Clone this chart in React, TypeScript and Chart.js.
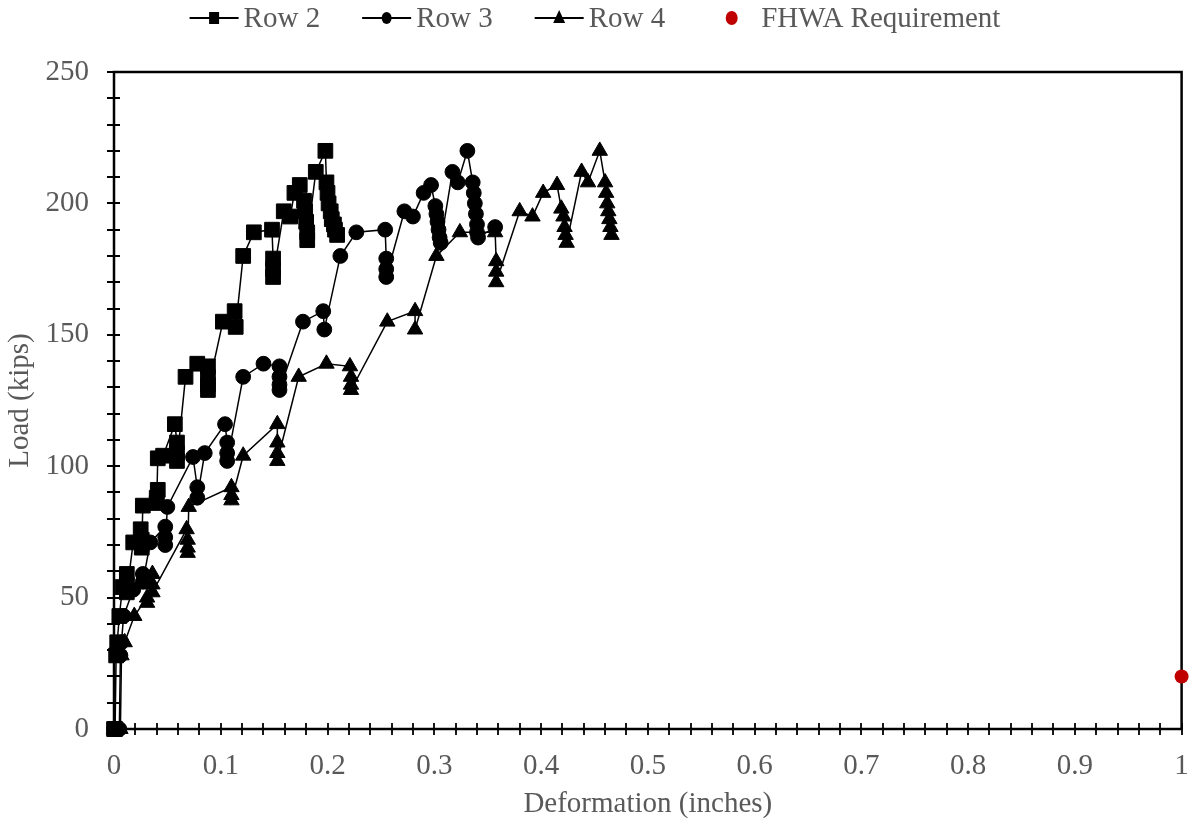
import React, { useEffect, useRef } from 'react';
import { Chart, registerables } from 'chart.js';

Chart.register(...registerables);

// ---------- data ----------
const row2X = [0, 0.001, 0.002, 0.003, 0.005, 0.008, 0.012, 0.012, 0.012, 0.018, 0.025, 0.026, 0.026, 0.027, 0.041, 0.040, 0.040, 0.041, 0.046, 0.057, 0.059, 0.059, 0.059, 0.067, 0.078, 0.088, 0.088, 0.088, 0.088, 0.102, 0.113, 0.114, 0.121, 0.131, 0.148, 0.149, 0.149, 0.149, 0.159, 0.165, 0.169, 0.174, 0.178, 0.179, 0.180, 0.181, 0.181, 0.189, 0.198, 0.199, 0.200, 0.201, 0.203, 0.204, 0.206, 0.207, 0.209];
const row2Y = [0, 0, 28, 33, 43, 54, 59, 55, 52, 71, 76, 72, 69, 85, 91, 88, 86, 103, 104, 116, 109, 105, 102, 134, 139, 138, 134, 131, 129, 155, 159, 153, 180, 189, 190, 179, 175, 172, 197, 195, 204, 207, 201, 197, 193, 189, 186, 212, 220, 208, 204, 200, 197, 194, 192, 190, 188];

const row3X = [0, 0.005, 0.006, 0.007, 0.009, 0.018, 0.027, 0.027, 0.034, 0.048, 0.048, 0.048, 0.050, 0.074, 0.078, 0.078, 0.085, 0.104, 0.106, 0.106, 0.106, 0.121, 0.140, 0.155, 0.155, 0.155, 0.155, 0.177, 0.196, 0.197, 0.212, 0.227, 0.254, 0.255, 0.255, 0.255, 0.272, 0.280, 0.290, 0.297, 0.301, 0.302, 0.303, 0.304, 0.305, 0.306, 0.317, 0.322, 0.331, 0.336, 0.337, 0.338, 0.339, 0.340, 0.340, 0.341, 0.357];
const row3Y = [0, 0, 28, 33, 43, 53, 59, 56, 71, 77, 73, 70, 84.5, 103.5, 92, 88, 105, 116, 109, 105, 102, 134, 139, 138, 134, 131, 129, 155, 159, 152, 180, 189, 190, 179, 175, 172, 197, 195, 204, 207, 199, 196, 193, 190, 187, 185, 212, 208, 220, 208, 204, 200, 196, 192, 189, 187, 191];

const row4X = [0, 0.006, 0.007, 0.010, 0.019, 0.031, 0.031, 0.036, 0.036, 0.036, 0.068, 0.069, 0.069, 0.069, 0.070, 0.110, 0.110, 0.110, 0.121, 0.153, 0.153, 0.153, 0.153, 0.173, 0.199, 0.221, 0.222, 0.222, 0.222, 0.256, 0.282, 0.282, 0.302, 0.324, 0.357, 0.358, 0.358, 0.358, 0.380, 0.392, 0.402, 0.415, 0.419, 0.421, 0.422, 0.423, 0.424, 0.438, 0.444, 0.455, 0.460, 0.461, 0.462, 0.463, 0.464, 0.465, 0.466];
const row4Y = [0, 0, 28, 33, 43, 50, 48, 59, 55, 52, 76, 72, 69, 67, 84.5, 92, 89, 87, 104, 116, 109, 105, 102, 134, 139, 138, 134, 131, 129, 155, 159, 152, 180, 189, 189, 178, 174, 170, 197, 195, 204, 207, 198, 195, 191, 188, 185, 212, 208, 220, 208, 204, 200, 197, 194, 191, 188];

const fhwaX = [1];
const fhwaY = [20];

const seriesNames = ['Row 2', 'Row 3', 'Row 4', 'FHWA Requirement'];

const xMajorTicks = [0, 0.1, 0.2, 0.3, 0.4, 0.5, 0.6, 0.7, 0.8, 0.9, 1];
const xTickLabels = ['0', '0.1', '0.2', '0.3', '0.4', '0.5', '0.6', '0.7', '0.8', '0.9', '1'];
const yMajorTicks = [0, 50, 100, 150, 200, 250];
const yTickLabels = ['0', '50', '100', '150', '200', '250'];
const xMinorCount = 50; // minor ticks every 0.02
const yMinorCount = 25; // minor ticks every 10

const FONT = 'Liberation Serif';
const GRAY = '#595959';
const RED = '#C00000';
const PAGE_W = 1190;
const CANVAS_W = 1193;

const toPoints = (xs: number[], ys: number[]) => xs.map((x, i) => ({ x, y: ys[i] }));

const labelFor = (majors: number[], labels: string[], v: number) => {
  for (let i = 0; i < majors.length; i++) {
    if (Math.abs(majors[i] - v) < 1e-7) return labels[i];
  }
  return '';
};

const frameTicksPlugin = {
  id: 'frameTicks',
  beforeDatasetsDraw(chart: any) {
    const { ctx, chartArea: a, scales } = chart;
    const xs = scales.x;
    const ys = scales.y;
    ctx.save();
    ctx.strokeStyle = '#000';
    ctx.lineWidth = 1.8;
    ctx.beginPath();
    xs.ticks.forEach((t: any) => {
      const px = Math.round(xs.getPixelForValue(t.value));
      ctx.moveTo(px, a.bottom - 6);
      ctx.lineTo(px, a.bottom + 6);
    });
    ys.ticks.forEach((t: any) => {
      const py = Math.round(ys.getPixelForValue(t.value));
      ctx.moveTo(a.left - 7, py);
      ctx.lineTo(a.left + 6, py);
    });
    ctx.stroke();
    ctx.lineWidth = 2.5;
    ctx.strokeRect(a.left, a.top, a.right - a.left, a.bottom - a.top);
    ctx.restore();
  },
};

const legendPlugin = {
  id: 'customLegend',
  afterDraw(chart: any) {
    const ctx = chart.ctx;
    ctx.save();
    ctx.font = `29px "${FONT}"`;
    const symW = 49;
    const gapT = 5;
    const gapItem = 42;
    const widths = seriesNames.map((n) => ctx.measureText(n).width);
    let total = 0;
    widths.forEach((w, i) => {
      total += symW + gapT + w + (i < widths.length - 1 ? gapItem : 0);
    });
    let x0 = (PAGE_W - total) / 2;
    const yc = 18;
    const styles = ['rect', 'circle', 'triangle', 'dot'];
    seriesNames.forEach((name, i) => {
      const cx = x0 + symW / 2;
      const st = styles[i];
      if (st !== 'dot') {
        ctx.strokeStyle = '#000';
        ctx.lineWidth = 1.8;
        ctx.beginPath();
        ctx.moveTo(x0, yc);
        ctx.lineTo(x0 + symW, yc);
        ctx.stroke();
        ctx.fillStyle = '#000';
        ctx.beginPath();
        if (st === 'rect') {
          ctx.rect(cx - 5, yc - 6, 10, 12);
        } else if (st === 'circle') {
          ctx.ellipse(cx, yc, 5, 6, 0, 0, Math.PI * 2);
        } else {
          ctx.moveTo(cx, yc - 8);
          ctx.lineTo(cx + 6, yc + 5);
          ctx.lineTo(cx - 6, yc + 5);
          ctx.closePath();
        }
        ctx.fill();
      } else {
        ctx.fillStyle = RED;
        ctx.beginPath();
        ctx.ellipse(cx, yc, 6, 7, 0, 0, Math.PI * 2);
        ctx.fill();
      }
      ctx.fillStyle = GRAY;
      ctx.textBaseline = 'middle';
      ctx.textAlign = 'left';
      ctx.fillText(name, x0 + symW + gapT, yc + 1);
      x0 += symW + gapT + widths[i] + gapItem;
    });
    ctx.restore();
  },
};

export default function App() {
  const ref = useRef<HTMLCanvasElement>(null);
  useEffect(() => {
    document.body.style.margin = '0';
    const lineDs = (label: string, xs: number[], ys: number[], style: string, r: number) => ({
      label,
      data: toPoints(xs, ys),
      showLine: true,
      borderColor: '#000',
      backgroundColor: '#000',
      borderWidth: 1.5,
      pointStyle: style,
      pointRadius: r,
      pointBorderWidth: 1,
      pointBorderColor: '#000',
      pointBackgroundColor: '#000',
      clip: false as const,
    });
    const chart = new Chart(ref.current as HTMLCanvasElement, {
      type: 'scatter',
      data: {
        datasets: [
          lineDs(seriesNames[0], row2X, row2Y, 'rect', 10.4),
          lineDs(seriesNames[1], row3X, row3Y, 'circle', 7.4),
          lineDs(seriesNames[2], row4X, row4Y, 'triangle', 8.9),
          {
            label: seriesNames[3],
            data: toPoints(fhwaX, fhwaY),
            showLine: false,
            pointStyle: 'circle',
            pointRadius: 7,
            pointBorderWidth: 0,
            backgroundColor: RED,
            borderColor: RED,
            clip: false as const,
          },
        ] as any,
      },
      options: {
        animation: false,
        responsive: false,
        layout: { padding: { top: 72, right: 0, left: 0, bottom: 0 } },
        plugins: { legend: { display: false }, tooltip: { enabled: false } },
        scales: {
          x: {
            type: 'linear',
            min: 0,
            max: 1,
            afterBuildTicks: (s: any) => {
              s.ticks = Array.from({ length: xMinorCount + 1 }, (_, i) => ({ value: Math.round(i * 2) / 100 }));
            },
            afterFit: (s: any) => {
              s.height = 95;
              s.paddingLeft = 0;
              s.paddingRight = 0;
            },
            grid: { display: false, drawTicks: false },
            border: { display: false },
            ticks: {
              autoSkip: false,
              maxRotation: 0,
              padding: 20,
              color: GRAY,
              font: { family: FONT, size: 29 },
              callback: (v: any) => labelFor(xMajorTicks, xTickLabels, Number(v)),
            },
            title: {
              display: true,
              text: 'Deformation (inches)',
              color: GRAY,
              font: { family: FONT, size: 29 },
              padding: { top: 0, bottom: 2 },
            },
          },
          y: {
            type: 'linear',
            min: 0,
            max: 250,
            afterBuildTicks: (s: any) => {
              s.ticks = Array.from({ length: yMinorCount + 1 }, (_, i) => ({ value: i * 10 }));
            },
            afterFit: (s: any) => {
              s.width = 114;
              s.paddingTop = 0;
              s.paddingBottom = 0;
            },
            grid: { display: false, drawTicks: false },
            border: { display: false },
            ticks: {
              autoSkip: false,
              padding: 25,
              color: GRAY,
              font: { family: FONT, size: 29 },
              callback: (v: any) => labelFor(yMajorTicks, yTickLabels, Number(v)),
            },
            title: {
              display: true,
              text: 'Load (kips)',
              color: GRAY,
              font: { family: FONT, size: 29 },
              padding: { top: 3, bottom: 0 },
            },
          },
        },
      } as any,
      plugins: [frameTicksPlugin, legendPlugin],
    });
    return () => chart.destroy();
  }, []);
  return (
    <div style={{ width: PAGE_W, height: 824, overflow: 'hidden' }}>
      <canvas ref={ref} width={CANVAS_W} height={824} style={{ display: 'block' }} />
    </div>
  );
}
